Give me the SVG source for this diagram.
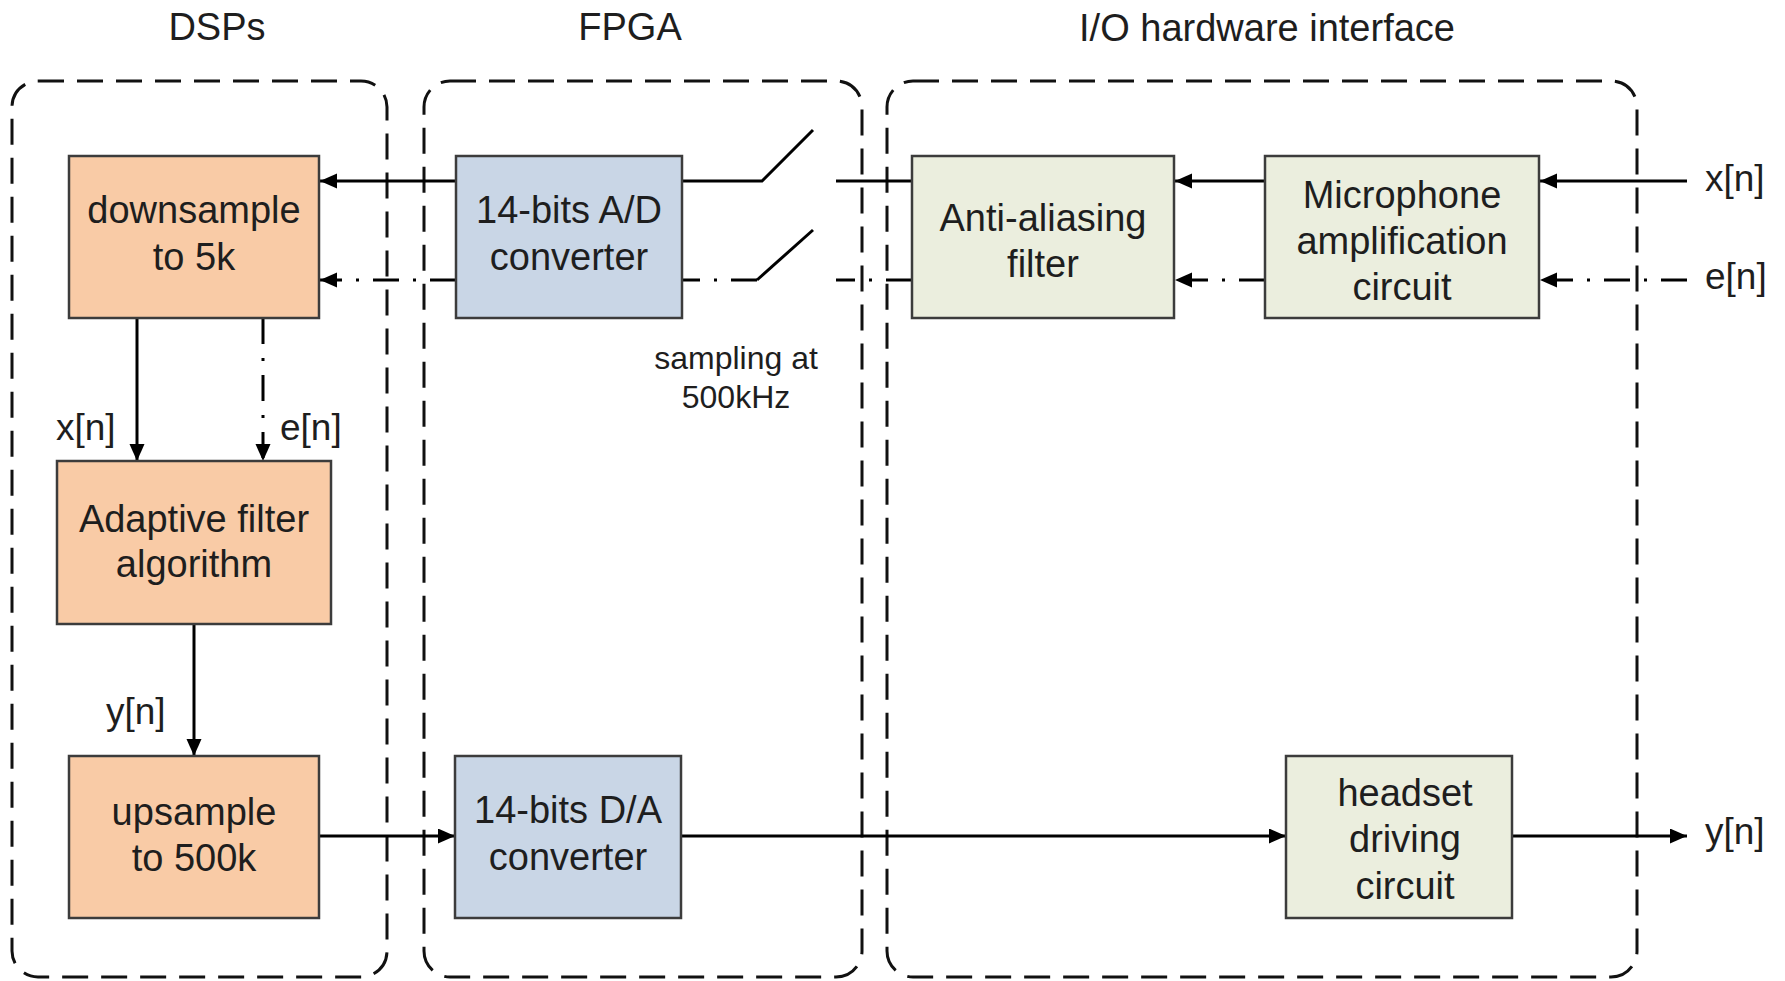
<svg xmlns="http://www.w3.org/2000/svg" width="1785" height="981" viewBox="0 0 1785 981">
  <defs>
    <style>
      .txt { font-family: "Liberation Sans", Arial, sans-serif; font-size: 38px; fill: #1e1e1e; text-anchor: middle; }
      .lbl { font-family: "Liberation Sans", Arial, sans-serif; font-size: 37px; fill: #1e1e1e; }
      .small { font-family: "Liberation Sans", Arial, sans-serif; font-size: 32px; fill: #1e1e1e; text-anchor: middle; }
      .zone { fill: none; stroke: #111; stroke-width: 3; stroke-dasharray: 26 13; }
      .box { stroke: #3c3c3c; stroke-width: 2.5; }
      .dsp { fill: #F9CBA6; }
      .fpga { fill: #C9D6E6; }
      .io { fill: #EBEEDE; }
      .wire { fill: none; stroke: #000; stroke-width: 3; }
      .dd { stroke-dasharray: 26 14 3 14; }
    </style>
    <marker id="arrow" markerUnits="userSpaceOnUse" markerWidth="18" markerHeight="16" refX="17" refY="7.5" orient="auto">
      <path d="M0,0 L17,7.5 L0,15 z" fill="#000"/>
    </marker>
  </defs>

  <rect width="1785" height="981" fill="#fff"/>

  <!-- section titles -->
  <g id="titles">
    <text class="txt" x="217" y="40">DSPs</text>
    <text class="txt" x="630" y="40">FPGA</text>
    <text class="txt" x="1267" y="41">I/O hardware interface</text>
  </g>

  <!-- dashed section outlines -->
  <g id="zones">
    <rect class="zone" x="12" y="81" width="375" height="896" rx="26"/>
    <rect class="zone" x="424" y="81" width="438" height="896" rx="26"/>
    <rect class="zone" x="887" y="81" width="750" height="896" rx="26"/>
  </g>

  <!-- connectors -->
  <g id="connectors">
    <!-- external inputs -->
    <line class="wire" x1="1687" y1="181" x2="1540" y2="181" marker-end="url(#arrow)"/>
    <line class="wire dd" x1="1687" y1="280" x2="1540" y2="280" marker-end="url(#arrow)"/>
    <!-- microphone amp to anti-aliasing -->
    <line class="wire" x1="1265" y1="181" x2="1175" y2="181" marker-end="url(#arrow)"/>
    <line class="wire dd" x1="1265" y1="280" x2="1175" y2="280" marker-end="url(#arrow)"/>
    <!-- anti-aliasing through sampling switches to A/D -->
    <polyline class="wire" points="912,181 836,181"/>
    <polyline class="wire" points="813,130 762,181 682,181"/>
    <polyline class="wire dd" points="912,280 836,280"/>
    <polyline class="wire" points="813,230 757,280"/>
    <polyline class="wire dd" points="757,280 682,280"/>
    <!-- A/D to downsample -->
    <line class="wire" x1="456" y1="181" x2="320" y2="181" marker-end="url(#arrow)"/>
    <line class="wire dd" x1="456" y1="280" x2="320" y2="280" marker-end="url(#arrow)"/>
    <!-- downsample to adaptive filter -->
    <line class="wire" x1="137" y1="318" x2="137" y2="461" marker-end="url(#arrow)"/>
    <line class="wire dd" x1="263" y1="318" x2="263" y2="461" marker-end="url(#arrow)"/>
    <!-- adaptive filter to upsample -->
    <line class="wire" x1="194" y1="624" x2="194" y2="756" marker-end="url(#arrow)"/>
    <!-- output chain -->
    <line class="wire" x1="319" y1="836" x2="455" y2="836" marker-end="url(#arrow)"/>
    <line class="wire" x1="681" y1="836" x2="1286" y2="836" marker-end="url(#arrow)"/>
    <line class="wire" x1="1512" y1="836" x2="1687" y2="836" marker-end="url(#arrow)"/>
  </g>

  <!-- signal labels -->
  <g id="labels">
    <text class="lbl" x="1705" y="191">x[n]</text>
    <text class="lbl" x="1705" y="289">e[n]</text>
    <text class="lbl" x="56" y="440">x[n]</text>
    <text class="lbl" x="280" y="440">e[n]</text>
    <text class="lbl" x="106" y="724">y[n]</text>
    <text class="lbl" x="1705" y="844">y[n]</text>
    <text class="small" x="736" y="369">sampling at</text>
    <text class="small" x="736" y="408">500kHz</text>
  </g>

  <g id="downsample">
    <rect class="box dsp" x="69" y="156" width="250" height="162"/>
    <text class="txt" x="194" y="223">downsample</text>
    <text class="txt" x="194" y="270">to 5k</text>
  </g>

  <g id="adaptive-filter">
    <rect class="box dsp" x="57" y="461" width="274" height="163"/>
    <text class="txt" x="194" y="532">Adaptive filter</text>
    <text class="txt" x="194" y="577">algorithm</text>
  </g>

  <g id="upsample">
    <rect class="box dsp" x="69" y="756" width="250" height="162"/>
    <text class="txt" x="194" y="825">upsample</text>
    <text class="txt" x="194" y="871">to 500k</text>
  </g>

  <g id="ad-converter">
    <rect class="box fpga" x="456" y="156" width="226" height="162"/>
    <text class="txt" x="569" y="223">14-bits A/D</text>
    <text class="txt" x="569" y="270">converter</text>
  </g>

  <g id="da-converter">
    <rect class="box fpga" x="455" y="756" width="226" height="162"/>
    <text class="txt" x="568" y="823">14-bits D/A</text>
    <text class="txt" x="568" y="870">converter</text>
  </g>

  <g id="anti-aliasing">
    <rect class="box io" x="912" y="156" width="262" height="162"/>
    <text class="txt" x="1043" y="231">Anti-aliasing</text>
    <text class="txt" x="1043" y="277">filter</text>
  </g>

  <g id="microphone-amp">
    <rect class="box io" x="1265" y="156" width="274" height="162"/>
    <text class="txt" x="1402" y="208">Microphone</text>
    <text class="txt" x="1402" y="254">amplification</text>
    <text class="txt" x="1402" y="300">circuit</text>
  </g>

  <g id="headset-driver">
    <rect class="box io" x="1286" y="756" width="226" height="162"/>
    <text class="txt" x="1405" y="806">headset</text>
    <text class="txt" x="1405" y="852">driving</text>
    <text class="txt" x="1405" y="899">circuit</text>
  </g>
</svg>
